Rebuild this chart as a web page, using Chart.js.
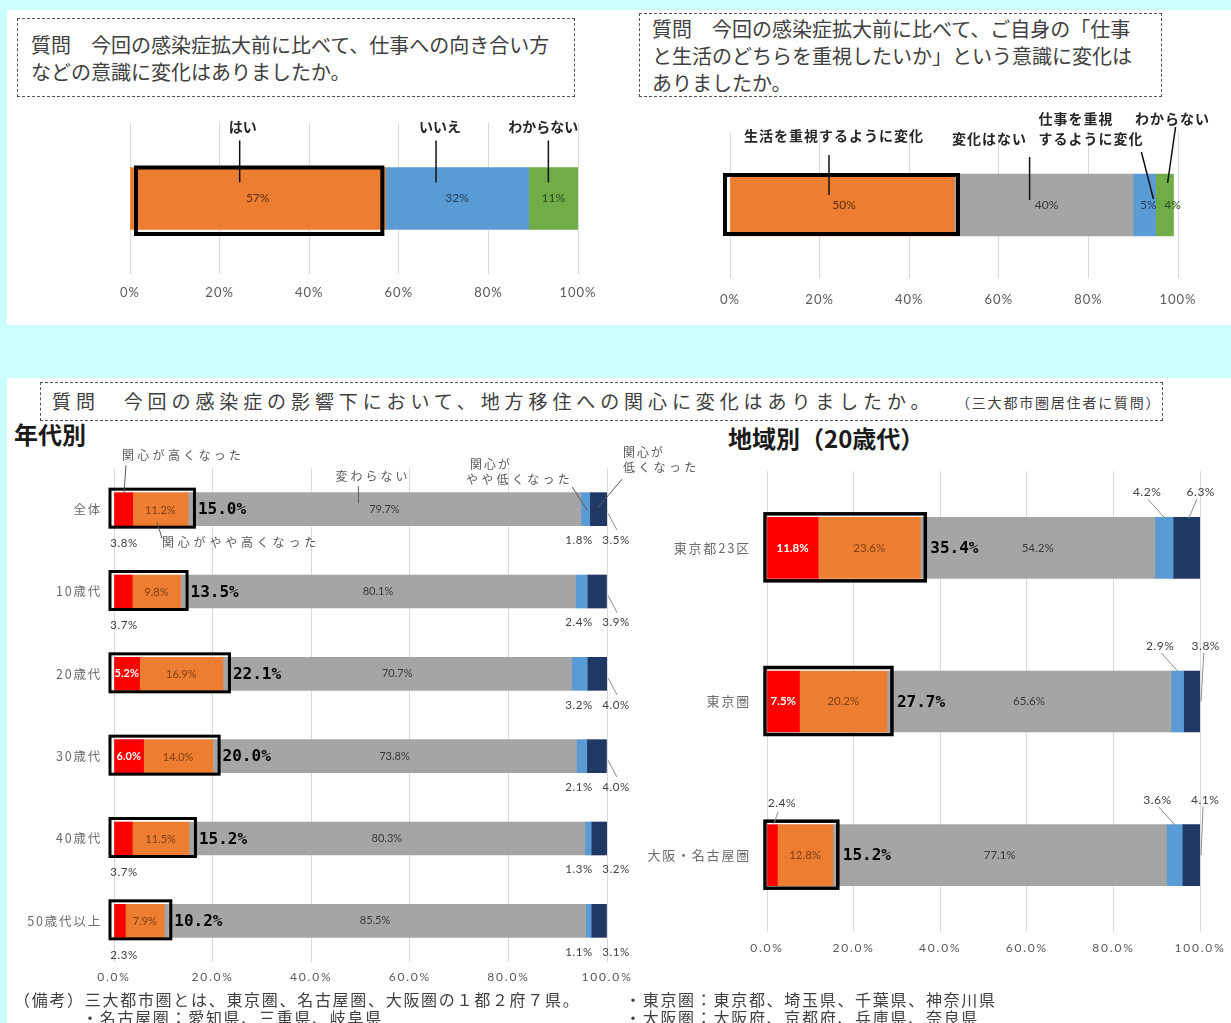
<!DOCTYPE html>
<html lang="ja">
<head>
<meta charset="utf-8">
<title>感染症拡大前後の意識の変化</title>
<script src="https://cdn.jsdelivr.net/npm/chart.js@4.4.0/dist/chart.umd.min.js"></script>
<style>
  html, body { margin: 0; padding: 0; }
  body {
    width: 1231px; height: 1023px; position: relative; overflow: hidden;
    background: #ccffff;
    font-family: "Noto Sans CJK JP", "Noto Sans", sans-serif; color: #404040;
  }
  .panel { position: absolute; background: #fff; }
  .qbox {
    position: absolute; box-sizing: border-box;
    border: 1.5px dashed #555; font-size: 20px; line-height: 27px;
    color: #404040; white-space: nowrap;
  }
  .abs { position: absolute; white-space: nowrap; }
  canvas { position: absolute; }
  .head { position: absolute; font-weight: bold; font-size: 24px; color: #1a1a1a; line-height: 30px; white-space: nowrap; }
  .note { position: absolute; font-size: 16px; letter-spacing: 1.7px; color: #404040; line-height: 18px; white-space: nowrap; }
</style>
</head>
<body>
<div class="panel" style="left:7px;top:10px;width:1224px;height:315px;"></div>
<div class="panel" style="left:7px;top:378px;width:1224px;height:645px;"></div>

<div class="qbox" style="left:17px;top:18px;width:558px;height:79px;padding:12px 0 0 13px;">質問　今回の感染症拡大前に比べて、仕事への向き合い方<br>などの意識に変化はありましたか。</div>
<div class="qbox" style="left:639px;top:13px;width:523px;height:84px;padding:1px 0 0 12px;">質問　今回の感染症拡大前に比べて、ご自身の「仕事<br>と生活のどちらを重視したいか」という意識に変化は<br>ありましたか。</div>
<div class="qbox" style="left:40px;top:382px;width:1123px;height:39px;">
  <span class="abs" style="left:11px;top:0;font-size:19px;line-height:36px;letter-spacing:4.9px;">質問　今回の感染症の影響下において、地方移住への関心に変化はありましたか。</span>
  <span class="abs" style="left:915px;top:0;font-size:14px;line-height:38px;letter-spacing:1.8px;">（三大都市圏居住者に質問）</span>
</div>

<div class="head" style="left:14px;top:419px;">年代別</div>
<div class="head" style="left:728px;top:423px;">地域別（20歳代）</div>

<canvas id="cA" width="606" height="220" style="left:7px;top:100px;"></canvas>
<canvas id="cB" width="611" height="220" style="left:620px;top:100px;"></canvas>
<canvas id="cC" width="713" height="560" style="left:7px;top:440px;"></canvas>
<canvas id="cD" width="591" height="529" style="left:640px;top:441px;"></canvas>

<div class="note" style="left:14px;top:990px;">（備考）三大都市圏とは、東京圏、名古屋圏、大阪圏の１都２府７県。</div>
<div class="note" style="left:82px;top:1008px;">・名古屋圏：愛知県、三重県、岐阜県</div>
<div class="note" style="left:625px;top:990px;">・東京圏：東京都、埼玉県、千葉県、神奈川県</div>
<div class="note" style="left:625px;top:1008px;">・大阪圏：大阪府、京都府、兵庫県、奈良県</div>

<script>
// ---- 仕事への向き合い方などの意識の変化 ----
const q1Labels = ['はい', 'いいえ', 'わからない'];
const q1Values = [57, 32, 11];

// ---- 仕事と生活のどちらを重視したいか ----
const q2Labels = ['生活を重視するように変化', '変化はない', '仕事を重視するように変化', 'わからない'];
const q2Values = [50, 40, 5, 4];

// ---- 地方移住への関心（年代別） ----
const interestLevels = ['関心が高くなった', '関心がやや高くなった', '変わらない', '関心がやや低くなった', '関心が低くなった'];
const ageGroups = ['全体', '10歳代', '20歳代', '30歳代', '40歳代', '50歳代以上'];
const ageHigh         = [3.8, 3.7, 5.2, 6.0, 3.7, 2.3];
const ageSomewhatHigh = [11.2, 9.8, 16.9, 14.0, 11.5, 7.9];
const ageNoChange     = [79.7, 80.1, 70.7, 73.8, 80.3, 85.5];
const ageSomewhatLow  = [1.8, 2.4, 3.2, 2.1, 1.3, 1.1];
const ageLow          = [3.5, 3.9, 4.0, 4.0, 3.2, 3.1];
const ageTotalHigh    = [15.0, 13.5, 22.1, 20.0, 15.2, 10.2];

// ---- 地方移住への関心（地域別・20歳代） ----
const regions = ['東京都23区', '東京圏', '大阪・名古屋圏'];
const regionHigh         = [11.8, 7.5, 2.4];
const regionSomewhatHigh = [23.6, 20.2, 12.8];
const regionNoChange     = [54.2, 65.6, 77.1];
const regionSomewhatLow  = [4.2, 2.9, 3.6];
const regionLow          = [6.3, 3.8, 4.1];
const regionTotalHigh    = [35.4, 27.7, 15.2];

// ---- 目盛ラベル ----
const pctTicks = ['0%', '20%', '40%', '60%', '80%', '100%'];
const pctTicksDec = ['0.0%', '20.0%', '40.0%', '60.0%', '80.0%', '100.0%'];

// ---- 配色 ----
const q1Colors = ['#ed7d31', '#5b9bd5', '#70ad47'];
const q2Colors = ['#ed7d31', '#a5a5a5', '#5b9bd5', '#70ad47'];
const interestColors = ['#ff0000', '#ed7d31', '#a5a5a5', '#5b9bd5', '#1f3864'];

const FONT_JP = '"Noto Sans CJK JP", sans-serif';
const FONT_NUM = 'Lato, "Noto Sans", sans-serif';
const FONT_TOTAL = '"DejaVu Sans Mono", monospace';

function txt(ctx, s, x, y, font, color, align = 'center', spacing = 0) {
  ctx.save();
  ctx.font = font;
  ctx.fillStyle = color;
  ctx.textAlign = align;
  ctx.textBaseline = 'middle';
  if ('letterSpacing' in ctx) ctx.letterSpacing = spacing + 'px';
  ctx.fillText(s, x, y);
  ctx.restore();
}
function line(ctx, x1, y1, x2, y2, color, w) {
  ctx.save();
  ctx.strokeStyle = color; ctx.lineWidth = w;
  ctx.beginPath(); ctx.moveTo(x1, y1); ctx.lineTo(x2, y2); ctx.stroke();
  ctx.restore();
}
function box(ctx, l, t, r, b, w) {
  ctx.save();
  ctx.strokeStyle = '#000'; ctx.lineWidth = w;
  ctx.strokeRect(l, t, r - l, b - t);
  ctx.restore();
}
// pixel edges of consecutive stacked segments
function edges(scale, values) {
  const out = [scale.getPixelForValue(0)];
  let acc = 0;
  values.forEach(v => { acc += v; out.push(scale.getPixelForValue(acc)); });
  return out;
}
// axis label tracking (letter spacing) for the whole canvas
function tracking(px) {
  return {
    id: 'tracking',
    beforeDraw(chart) { if ('letterSpacing' in chart.ctx) chart.ctx.letterSpacing = px + 'px'; }
  };
}

function pctAxis(labels, size, pad, axisHeight) {
  return {
    min: 0, max: 100, stacked: true,
    border: { display: false },
    grid: { color: '#d9d9d9', lineWidth: 1, drawTicks: false },
    ticks: {
      stepSize: 20, padding: pad, color: '#595959',
      font: { family: FONT_NUM, size: size },
      callback: (v, i) => labels[i]
    },
    afterFit: s => { s.height = axisHeight; }
  };
}
function catAxis(width, pad, size) {
  return {
    stacked: true,
    border: { display: false },
    grid: { display: false, drawTicks: false },
    ticks: { padding: pad, color: '#6b6b6b', font: { family: FONT_JP, size: size } },
    afterFit: s => { s.width = width; }
  };
}
const baseOptions = {
  indexAxis: 'y', responsive: false, animation: false, devicePixelRatio: 1,
  plugins: { legend: { display: false }, tooltip: { enabled: false } }
};

// ---------- 問1 ----------
const q1Annot = {
  id: 'q1Annot',
  afterDatasetsDraw(chart) {
    const { ctx, scales: { x, y } } = chart;
    const cy = y.getPixelForValue(0);
    const e = edges(x, q1Values);
    const mid = k => (e[k] + e[k + 1]) / 2;
    box(ctx, e[0] + 6, cy - 31, e[1] - 3, cy + 35.5, 4);
    const valColors = ['#5a2c0c', '#24405e', '#2c4a1a'];
    q1Values.forEach((v, k) => txt(ctx, v + '%', mid(k), cy, '12px ' + FONT_NUM, valColors[k]));
    const textDx = [-15, -17, -10], lineDx = [-18, -21, -5];
    q1Labels.forEach((s, k) => {
      txt(ctx, s, mid(k) + textDx[k], cy - 72, 'bold 14px ' + FONT_JP, '#262626');
      line(ctx, mid(k) + lineDx[k], cy - 58, mid(k) + lineDx[k], cy - 16, '#111', 1.5);
    });
  }
};
new Chart(document.getElementById('cA'), {
  type: 'bar',
  data: {
    labels: [''],
    datasets: q1Values.map((v, k) => ({ label: q1Labels[k], data: [v], backgroundColor: q1Colors[k], barThickness: 62, borderWidth: 0 }))
  },
  options: Object.assign({}, baseOptions, {
    layout: { padding: { left: 123, right: 35, top: 23, bottom: 0 } },
    scales: { x: pctAxis(pctTicks, 13, 11, 46), y: { stacked: true, display: false } }
  }),
  plugins: [tracking(1), q1Annot]
});

// ---------- 問2 ----------
const q2Annot = {
  id: 'q2Annot',
  afterDatasetsDraw(chart) {
    const { ctx, scales: { x, y } } = chart;
    const cy = y.getPixelForValue(0);
    const e = edges(x, q2Values);
    const mid = k => (e[k] + e[k + 1]) / 2;
    box(ctx, e[0] - 5, cy - 30, e[1] + 4, cy + 29, 4);
    const valDx = [2, 3, 4, 8];
    const valColors = ['#5a2c0c', '#3a3a3a', '#24405e', '#2c4a1a'];
    q2Values.forEach((v, k) => txt(ctx, v + '%', mid(k) + valDx[k], cy, '12px ' + FONT_NUM, valColors[k]));
    const f = 'bold 14px ' + FONT_JP, c = '#262626';
    // 生活を重視するように変化
    txt(ctx, q2Labels[0], mid(0) - 8, cy - 69, f, c, 'center', 1);
    line(ctx, mid(0) - 13, cy - 50, mid(0) - 13, cy - 10, '#111', 1.5);
    // 変化はない
    txt(ctx, q2Labels[1], mid(1) - 54, cy - 66, f, c, 'center', 1);
    line(ctx, mid(1) - 14, cy - 48, mid(1) - 14, cy - 5, '#111', 1.5);
    // 仕事を重視するように変化（2行）
    txt(ctx, q2Labels[2].slice(0, 5), mid(2) - 106, cy - 86, f, c, 'left', 1);
    txt(ctx, q2Labels[2].slice(5), mid(2) - 106, cy - 66, f, c, 'left', 1);
    line(ctx, mid(2) - 3, cy - 53, mid(2) + 9, cy - 6, '#111', 1.5);
    // わからない
    txt(ctx, q2Labels[3], mid(3) + 8, cy - 86, f, c, 'center', 1);
    line(ctx, mid(3) + 11, cy - 78, mid(3) + 3, cy - 22, '#111', 1.5);
  }
};
new Chart(document.getElementById('cB'), {
  type: 'bar',
  data: {
    labels: [''],
    datasets: q2Values.map((v, k) => ({ label: q2Labels[k], data: [v], backgroundColor: q2Colors[k], barThickness: 62, borderWidth: 0 }))
  },
  options: Object.assign({}, baseOptions, {
    layout: { padding: { left: 110, right: 53, top: 32, bottom: 0 } },
    scales: { x: pctAxis(pctTicks, 13, 14, 42), y: { stacked: true, display: false } }
  }),
  plugins: [tracking(1), q2Annot]
});

// ---------- 年代別 ----------
const AGE_BAR = 33;
const ageSeries = [ageHigh, ageSomewhatHigh, ageNoChange, ageSomewhatLow, ageLow];
const ageAnnot = {
  id: 'ageAnnot',
  afterDatasetsDraw(chart) {
    const { ctx, scales: { x, y } } = chart;
    const half = AGE_BAR / 2;
    const x0 = x.getPixelForValue(0), x100 = x.getPixelForValue(100);
    const small = '11.5px ' + FONT_NUM;
    ageGroups.forEach((g, i) => {
      const cy = y.getPixelForValue(i);
      const segs = ageSeries.map(s => s[i]);
      const e = edges(x, segs);
      const mid = k => (e[k] + e[k + 1]) / 2;
      const xt = x.getPixelForValue(ageTotalHigh[i]);
      box(ctx, x0 - 4, cy - half - 3.5, xt + 6.5, cy + half + 1.5, 3);
      if (segs[0] >= 5) txt(ctx, segs[0].toFixed(1) + '%', mid(0), cy, 'bold 11px ' + FONT_NUM, '#fff');
      else txt(ctx, segs[0].toFixed(1) + '%', x0 + 10, cy + 34, small, '#404040', 'center', 0.5);
      txt(ctx, segs[1].toFixed(1) + '%', mid(1), cy + 1, '11px ' + FONT_NUM, '#7f3f10');
      txt(ctx, segs[2].toFixed(1) + '%', mid(2), cy, '11px ' + FONT_NUM, '#3a3a3a');
      txt(ctx, ageTotalHigh[i].toFixed(1) + '%', xt + 10, cy + 1, 'bold 16px ' + FONT_TOTAL, '#000', 'left');
      txt(ctx, segs[3].toFixed(1) + '%', x100 - 28, cy + 31, small, '#404040', 'center', 0.5);
      txt(ctx, segs[4].toFixed(1) + '%', x100 + 9, cy + 31, small, '#404040', 'center', 0.5);
      if (i < 4) line(ctx, x100 + 1, cy + 4, x100 + 10, cy + 21, '#8c8c8c', 1);

      if (i === 0) {
        const f = '12px ' + FONT_JP, c = '#595959';
        txt(ctx, interestLevels[0], x0 + 8, cy - 54, f, c, 'left', 3.3);
        line(ctx, x0 + 12, cy - 44, x0 + 10, cy - 16, '#595959', 1);
        txt(ctx, interestLevels[1], x0 + 48, cy + 33, f, c, 'left', 3.8);
        line(ctx, x0 + 43, cy + 13, x0 + 48, cy + 29, '#595959', 1);
        txt(ctx, interestLevels[2], mid(2) - 49, cy - 33, f, c, 'left', 3);
        line(ctx, mid(2) - 26, cy - 23, mid(2) - 26, cy - 6, '#595959', 1);
        txt(ctx, interestLevels[3].slice(0, 3), x100 - 137, cy - 45, f, c, 'left', 2);
        txt(ctx, interestLevels[3].slice(3), x100 - 141, cy - 30, f, c, 'left', 3.3);
        line(ctx, mid(3) - 13, cy - 22, mid(3) + 2, cy + 1, '#595959', 1);
        txt(ctx, interestLevels[4].slice(0, 3), x100 + 16, cy - 57, f, c, 'left', 2);
        txt(ctx, interestLevels[4].slice(3), x100 + 16, cy - 42, f, c, 'left', 3.3);
        line(ctx, x100 + 15, cy - 30, mid(4) - 1, cy - 1, '#595959', 1);
      }
    });
  }
};
new Chart(document.getElementById('cC'), {
  type: 'bar',
  data: {
    labels: ageGroups,
    datasets: ageSeries.map((s, k) => ({ label: interestLevels[k], data: s, backgroundColor: interestColors[k], barThickness: AGE_BAR, borderWidth: 0 }))
  },
  options: Object.assign({}, baseOptions, {
    layout: { padding: { left: 0, right: 113, top: 28, bottom: 0 } },
    scales: { x: pctAxis(pctTicksDec, 12, 8, 38), y: catAxis(107, 12, 12.5) }
  }),
  plugins: [tracking(1.8), ageAnnot]
});

// ---------- 地域別（20歳代） ----------
const REG_BAR = 61;
const regionSeries = [regionHigh, regionSomewhatHigh, regionNoChange, regionSomewhatLow, regionLow];
const regionAnnot = {
  id: 'regionAnnot',
  afterDatasetsDraw(chart) {
    const { ctx, scales: { x, y } } = chart;
    const half = REG_BAR / 2;
    const x0 = x.getPixelForValue(0), x100 = x.getPixelForValue(100);
    const small = '12px ' + FONT_NUM;
    regions.forEach((r, i) => {
      const cy = y.getPixelForValue(i);
      const top = cy - half;
      const segs = regionSeries.map(s => s[i]);
      const e = edges(x, segs);
      const mid = k => (e[k] + e[k + 1]) / 2;
      const xt = x.getPixelForValue(regionTotalHigh[i]);
      box(ctx, x0 - 2, cy - 34, xt + 5, cy + 33, 3.5);
      if (segs[0] >= 5) txt(ctx, segs[0].toFixed(1) + '%', mid(0), cy, 'bold 11.5px ' + FONT_NUM, '#fff');
      else {
        txt(ctx, segs[0].toFixed(1) + '%', x0 + 15, top - 22, small, '#404040', 'center', 0.5);
        line(ctx, x0 + 11, top - 13, x0 + 7, top - 1, '#8c8c8c', 1);
      }
      txt(ctx, segs[1].toFixed(1) + '%', mid(1), cy, '11.5px ' + FONT_NUM, '#7f3f10');
      txt(ctx, segs[2].toFixed(1) + '%', mid(2), cy, '11.5px ' + FONT_NUM, '#3a3a3a');
      txt(ctx, regionTotalHigh[i].toFixed(1) + '%', xt + 10, cy + 1, 'bold 16px ' + FONT_TOTAL, '#000', 'left');
      const bx = mid(3) - 17, nx = mid(4) + 14;
      txt(ctx, segs[3].toFixed(1) + '%', bx, top - 25, small, '#404040', 'center', 0.5);
      txt(ctx, segs[4].toFixed(1) + '%', nx, top - 25, small, '#404040', 'center', 0.5);
      line(ctx, bx + 1, top - 18, mid(3) + 1, top + 1, '#8c8c8c', 1);
      if (i === 0) line(ctx, nx - 4, top - 18, mid(4) + 2, top + 1, '#8c8c8c', 1);
      else line(ctx, nx - 2, top - 18, x100 + 1, cy, '#8c8c8c', 1);
    });
  }
};
new Chart(document.getElementById('cD'), {
  type: 'bar',
  data: {
    labels: regions,
    datasets: regionSeries.map((s, k) => ({ label: interestLevels[k], data: s, backgroundColor: interestColors[k], barThickness: REG_BAR, borderWidth: 0 }))
  },
  options: Object.assign({}, baseOptions, {
    layout: { padding: { left: 0, right: 31, top: 30, bottom: 0 } },
    scales: { x: pctAxis(pctTicksDec, 12, 9, 38), y: catAxis(127, 16, 13) }
  }),
  plugins: [tracking(1.8), regionAnnot]
});
</script>
</body>
</html>
